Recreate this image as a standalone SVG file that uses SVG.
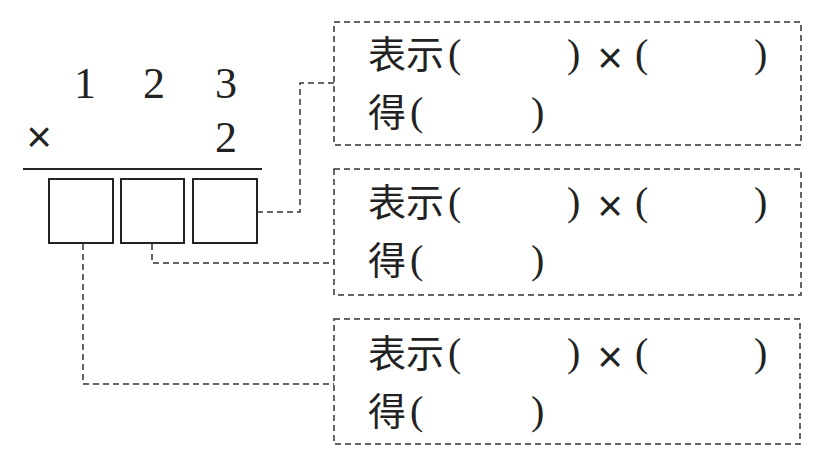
<svg xmlns="http://www.w3.org/2000/svg" width="831" height="468" viewBox="0 0 831 468">
<style>
.dash{fill:none;stroke:#333;stroke-width:1.5;stroke-dasharray:6 4}
.box{fill:#fff;stroke:#222;stroke-width:2}
.num{font-family:"Liberation Serif",serif;font-size:44px;fill:#222;text-anchor:middle}
.times{font-family:"Liberation Sans",sans-serif;font-size:44px;fill:#222;text-anchor:middle}
.cjk{font-family:"Noto Sans CJK SC",sans-serif;font-size:38px;fill:#222}
.par{font-family:"Liberation Serif",serif;font-size:40px;fill:#222}
</style>
<rect width="831" height="468" fill="#fff"/>
<g id="calc">
<text class="num" x="85" y="98">1</text>
<text class="num" x="154" y="98">2</text>
<text class="num" x="226" y="98">3</text>
<text class="times" x="39" y="152">×</text>
<text class="num" x="226" y="152">2</text>
<line x1="23" y1="169" x2="262" y2="169" stroke="#222" stroke-width="2"/>
</g>
<g id="digit-hundreds"><rect class="box" x="49" y="179" width="64" height="64"/></g>
<g id="digit-tens"><rect class="box" x="121" y="179" width="63" height="64"/></g>
<g id="digit-ones"><rect class="box" x="193" y="179" width="64" height="64"/></g>
<g id="connectors">
<polyline class="dash" points="257,212 300,212 300,83 334,83"/>
<polyline class="dash" points="152,244 152,263 334,263"/>
<polyline class="dash" points="83,244 83,384 334,384"/>
</g>
<g id="panel1">
<rect class="dash" x="334" y="22" width="467" height="123"/>
<text class="cjk" x="368" y="68">表示</text>
<text class="par" x="448" y="67">(</text>
<text class="par" x="567" y="67">)</text>
<text class="times" x="610" y="73">×</text>
<text class="par" x="635" y="67">(</text>
<text class="par" x="754" y="67">)</text>
<text class="cjk" x="368" y="126">得</text>
<text class="par" x="410" y="125">(</text>
<text class="par" x="531" y="125">)</text>
</g>
<g id="panel2">
<rect class="dash" x="334" y="169" width="467" height="126"/>
<text class="cjk" x="368" y="216">表示</text>
<text class="par" x="448" y="215">(</text>
<text class="par" x="567" y="215">)</text>
<text class="times" x="610" y="221">×</text>
<text class="par" x="635" y="215">(</text>
<text class="par" x="754" y="215">)</text>
<text class="cjk" x="368" y="274">得</text>
<text class="par" x="410" y="273">(</text>
<text class="par" x="531" y="273">)</text>
</g>
<g id="panel3">
<rect class="dash" x="334" y="319" width="466" height="125"/>
<text class="cjk" x="368" y="367">表示</text>
<text class="par" x="448" y="366">(</text>
<text class="par" x="567" y="366">)</text>
<text class="times" x="610" y="372">×</text>
<text class="par" x="635" y="366">(</text>
<text class="par" x="754" y="366">)</text>
<text class="cjk" x="368" y="425">得</text>
<text class="par" x="410" y="424">(</text>
<text class="par" x="531" y="424">)</text>
</g>
</svg>
